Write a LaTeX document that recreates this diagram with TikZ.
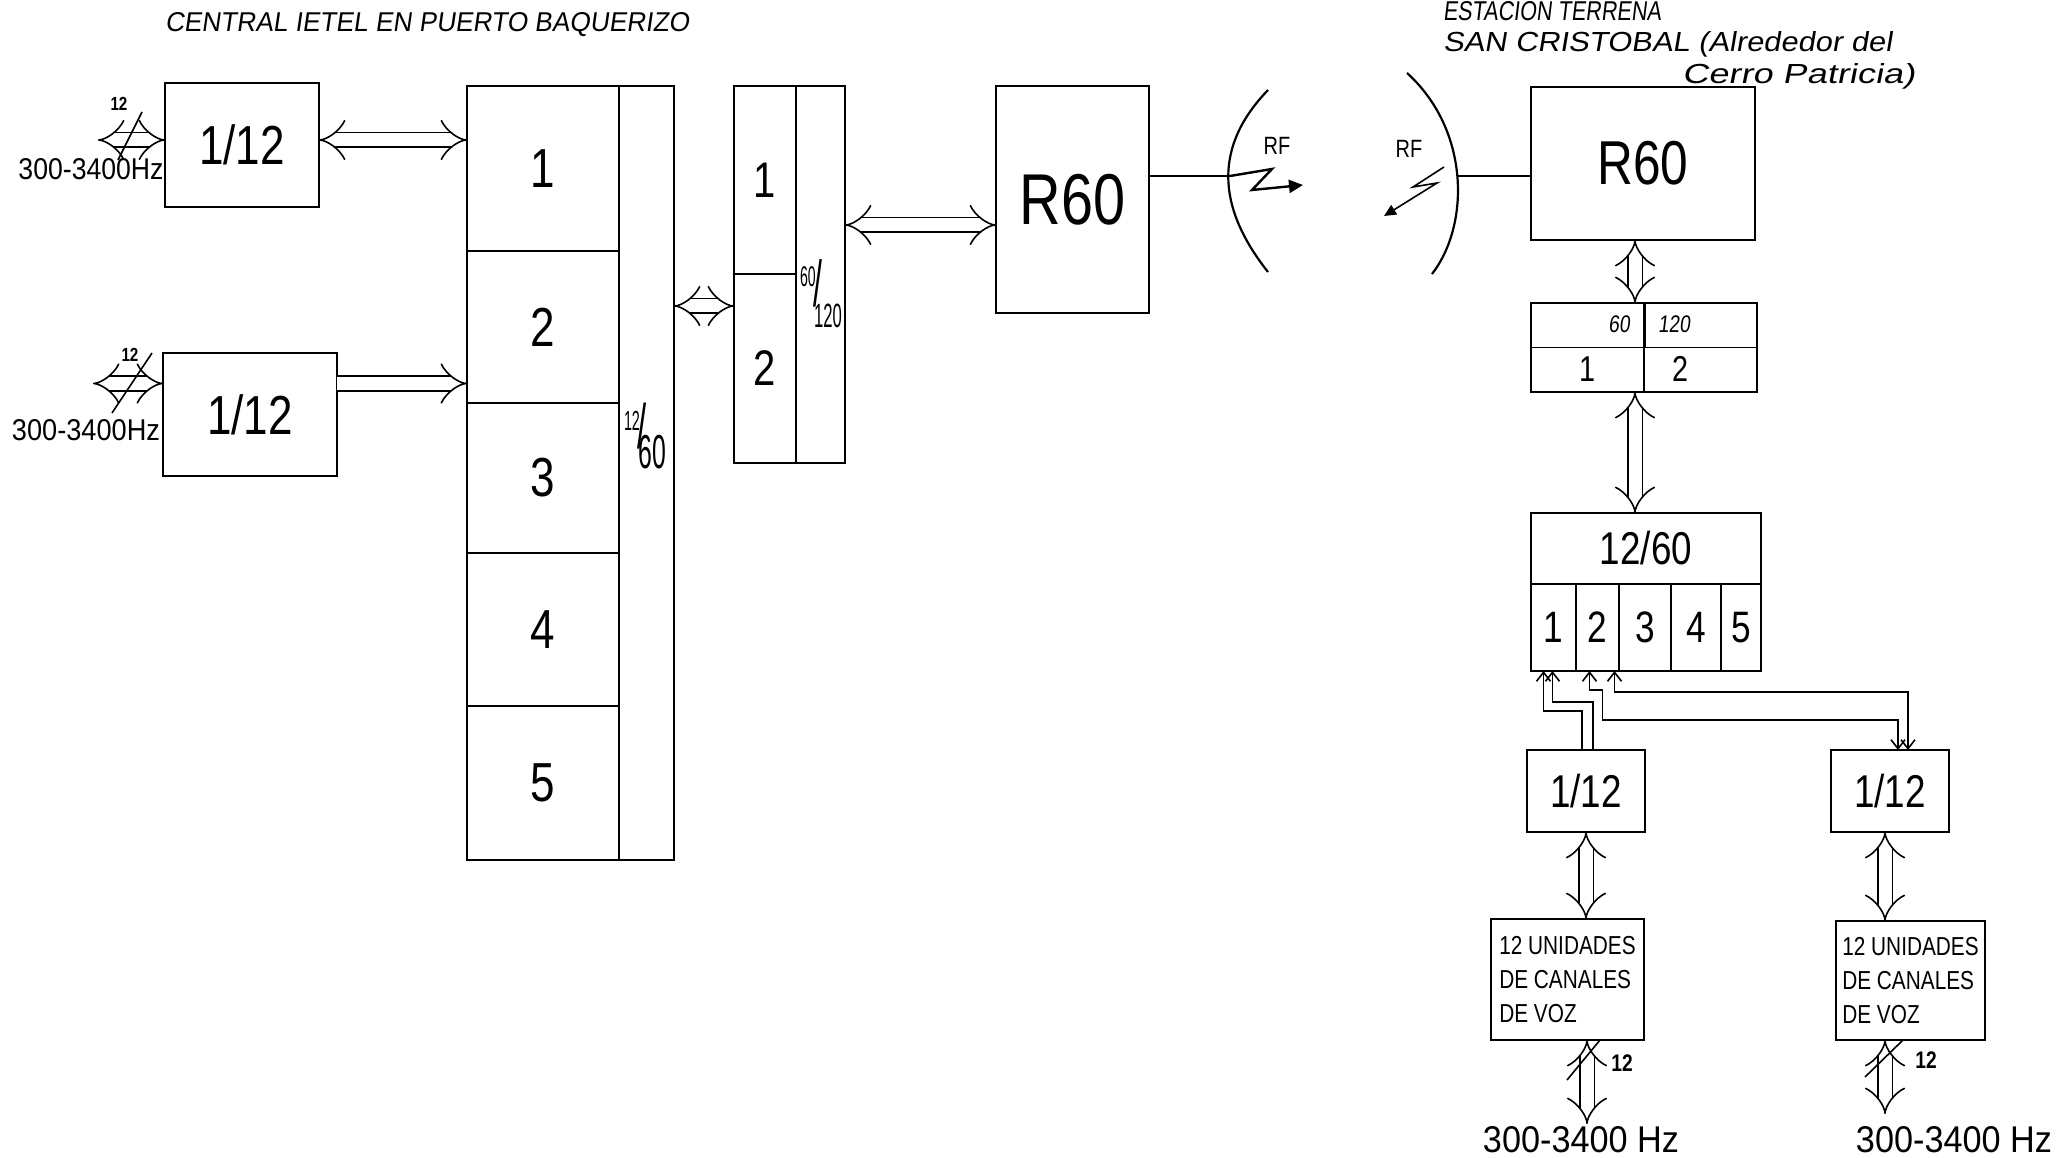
\documentclass[tikz,border=0pt]{standalone}
\usepackage{graphicx}
\usepackage{fontspec}
\setmainfont{Liberation Sans}
\newfontfamily\hf[FakeStretch=0.8]{Liberation Sans}
\newfontfamily\hfi[FakeStretch=0.8,FakeSlant=0.12]{Liberation Sans}
\usetikzlibrary{arrows.meta}
\begin{document}
\begin{tikzpicture}[x=1pt,y=-1pt,
  fs/.style={font={\hf\fontsize{#1}{#1}\selectfont}},
  fsi/.style={font={\hfi\fontsize{#1}{#1}\selectfont}},
  box/.style={draw, line width=1.8pt, inner sep=0pt, outer sep=0pt},
  lbl/.style={inner sep=0pt, outer sep=0pt},
  dbl/.style={line width=1.6pt, double distance=13pt},
  bi/.style={dbl, {Implies}-{Implies}},
  uni/.style={dbl, -{Implies}},
  thin/.style={line width=1.6pt},
  barb/.style={line width=1.6pt, >={Straight Barb[length=9pt,width=14pt]}}
]
\useasboundingbox (0,0) rectangle (2064,1158);

% titles
\node[fsi=24, anchor=west, lbl] (t1) at (165,25) {\resizebox{524pt}{19pt}{CENTRAL IETEL EN PUERTO BAQUERIZO}};
\node[fsi=24, anchor=west, lbl] (t2) at (1443,11) {\resizebox{218pt}{19pt}{ESTACION TERRENA}};
\node[fsi=24, anchor=west, lbl] (t3) at (1443,44) {\resizebox{449pt}{20pt}{SAN CRISTOBAL (Alrededor del}};
\node[fsi=24, anchor=west, lbl] (t4) at (1682,76) {\resizebox{233pt}{20pt}{Cerro Patricia)}};

% left side: 1/12 boxes
\node[box, fs=55, minimum width=154pt, minimum height=124pt] (tb1) at (242,145) {1/12};
\node[box, fs=55, minimum width=174pt, minimum height=123pt] (lb1) at (250,414.5) {1/12};

% big 12/60 block
\node[box, fs=55, minimum width=152pt, minimum height=165pt] (c1) at (543,168.5) {1};
\node[box, fs=55, minimum width=152pt, minimum height=152pt] (c2) at (543,327) {2};
\node[box, fs=55, minimum width=152pt, minimum height=150pt] (c3) at (543,478) {3};
\node[box, fs=55, minimum width=152pt, minimum height=153pt] (c4) at (543,629.5) {4};
\node[box, fs=55, minimum width=152pt, minimum height=154pt] (c5) at (543,783) {5};
\node[box, minimum width=55pt, minimum height=774pt] (col12) at (646.5,473) {};
\node[lbl, font=\hf] (f1260) at (645,436) {\resizebox*{42pt}{66pt}{\raisebox{14pt}{\fontsize{22}{22}\selectfont 12}\hspace{-3pt}{\fontsize{50}{50}\selectfont/}\hspace{-10pt}\raisebox{-16pt}{\fontsize{38}{38}\selectfont 60}}};

% 60/120 block
\node[box, fs=50, minimum width=62pt, minimum height=188pt] (m1) at (765,180) {1};
\node[box, fs=50, minimum width=62pt, minimum height=189pt] (m2) at (765,368.5) {2};
\node[box, minimum width=49pt, minimum height=377pt] (mcol) at (820.5,274.5) {};
\node[lbl, font=\hf] (f60120) at (821,294) {\resizebox*{42pt}{68pt}{\raisebox{16pt}{\fontsize{22}{22}\selectfont 60}\hspace{-3pt}{\fontsize{50}{50}\selectfont/}\hspace{-10pt}\raisebox{-16pt}{\fontsize{26}{26}\selectfont 120}}};

% R60 left
\node[box, fs=72, minimum width=153pt, minimum height=227pt] (r60a) at (1072.5,199.5) {R60};

% connectors left side
\draw[bi] ([xshift=-67pt,yshift=5pt]tb1.west) -- ([yshift=5pt]tb1.west);
\draw[thin] (142,112) -- (118,160);
\node[lbl, font={\hf\bfseries\fontsize{19}{19}\selectfont}] (n12a) at (119,104) {12};
\node[lbl, font=\hf] (hz1) at (91,169) {\resizebox{145pt}{21pt}{300-3400Hz}};

\draw[bi] ([xshift=-70pt,yshift=31pt]lb1.west) -- ([yshift=31pt]lb1.west);
\draw[thin] (152,353) -- (112,413);
\node[lbl, font={\hf\bfseries\fontsize{19}{19}\selectfont}] (n12b) at (130,355) {12};
\node[lbl, font=\hf] (hz2) at (86,430) {\resizebox{148pt}{21pt}{300-3400Hz}};

\draw[bi] ([yshift=5pt]tb1.east) -- ([yshift=5pt]tb1.east -| c1.west);
\draw[uni] ([yshift=31pt]lb1.east) -- ([yshift=31pt]lb1.east -| c2.west);
\draw[bi] ([yshift=167pt]col12.east) -- ([yshift=167pt]col12.east -| m2.west);
\draw[bi] ([yshift=49.5pt]mcol.east) -- ([yshift=49.5pt]mcol.east -| r60a.west);

% antennas
\coordinate (antL) at (1230,176);
\coordinate (antR) at (1457,176);
\draw[thin] (r60a.east |- antL) -- (antL);
\draw[line width=2.2pt] (1268,90) .. controls (1215,145) and (1215,205) .. (1268,272);
\draw[line width=2.2pt] (1407,73) .. controls (1470,130) and (1470,225) .. (1432,274);
\draw[line width=2.4pt, -{Triangle[length=14pt,width=13pt]}] (antL) -- (1272,169) -- (1252,190) -- (1303,185);
\draw[line width=1.6pt, -{Triangle[length=12pt,width=11pt]}] (1444,167) -- (1413,187) -- (1437,183) -- (1384,216);
\node[lbl, fs=25] (rf1) at (1277,146) {RF};
\node[lbl, fs=25] (rf2) at (1409,149) {RF};

% right side
\node[box, fs=62, minimum width=224pt, minimum height=153pt] (r60b) at (1643,163.5) {R60};
\draw[thin] (antR) -- (antR -| r60b.west);

\node[box, minimum width=226pt, minimum height=89pt] (m60) at (1644,347.5) {};
\draw[line width=1.8pt] (m60.west) -- (m60.east);
\draw[line width=1.8pt] (m60.north) -- (m60.south);
\draw[line width=3pt] (m60.north) -- (m60.center);
\node[lbl, fsi=24] (l60) at (1619,324) {60};
\node[lbl, fsi=24] (l120) at (1674,324) {120};
\node[lbl, fs=36] (l1) at (1587,369) {1};
\node[lbl, fs=36] (l2) at (1680,369) {2};

\node[box, fs=46, minimum width=230pt, minimum height=71pt] (m12) at (1646,548.5) {12/60};
\node[box, fs=44, minimum width=45pt, minimum height=87pt] (ch1) at (1553.5,627.5) {1};
\node[box, fs=44, minimum width=43pt, minimum height=87pt] (ch2) at (1597.5,627.5) {2};
\node[box, fs=44, minimum width=52pt, minimum height=87pt] (ch3) at (1645,627.5) {3};
\node[box, fs=44, minimum width=50pt, minimum height=87pt] (ch4) at (1696,627.5) {4};
\node[box, fs=44, minimum width=40pt, minimum height=87pt] (ch5) at (1741,627.5) {5};

\draw[bi] ([xshift=-8pt]r60b.south) -- ([xshift=-9pt]m60.north);
\draw[bi] ([xshift=-9pt]m60.south) -- ([xshift=-9pt]m60.south |- m12.north);

\node[box, fs=46, minimum width=118pt, minimum height=82pt] (lb) at (1586,791) {1/12};
\node[box, fs=46, minimum width=118pt, minimum height=82pt] (rb) at (1890,791) {1/12};

\draw[barb, <-] ([xshift=-10pt]ch1.south) -- ++(0,40) -| ([xshift=-4pt]lb.north);
\draw[barb, <-] ([xshift=-1pt]ch1.south) -- ++(0,31) -| ([xshift=7pt]lb.north);
\draw[barb, <->] ([xshift=-8pt]ch2.south) -- ++(0,19) -- ++(13,0) -- ++(0,30) -| ([xshift=8pt]rb.north);
\draw[barb, <->] ([xshift=17pt]ch2.south) -- ++(0,21) -| ([xshift=18pt]rb.north);

\node[box, font={\hf\fontsize{26}{34}\selectfont}, align=left, minimum width=153pt, minimum height=121pt] (ul) at (1567.5,979.5) {12 UNIDADES\\DE CANALES\\DE VOZ};
\node[box, font={\hf\fontsize{26}{34}\selectfont}, align=left, minimum width=149pt, minimum height=119pt] (ur) at (1910.5,980.5) {12 UNIDADES\\DE CANALES\\DE VOZ};

\draw[bi] (lb.south) -- (lb.south |- ul.north);
\draw[bi] ([xshift=-5pt]rb.south) -- ([xshift=-5pt]rb.south |- ur.north);

\coordinate (outL) at (1587,1124);
\coordinate (outR) at (1885,1114);
\draw[bi] (outL |- ul.south) -- (outL);
\draw[bi] (outR |- ur.south) -- (outR);
\draw[thin] (1567,1080) -- (1600,1040);
\draw[thin] (1865,1077) -- (1903,1040);
\node[lbl, font={\hf\bfseries\fontsize{24}{24}\selectfont}] (n12c) at (1622,1063) {12};
\node[lbl, font={\hf\bfseries\fontsize{24}{24}\selectfont}] (n12d) at (1926,1060) {12};
\node[lbl, font=\hf] (hz3) at (1581,1140) {\resizebox{196pt}{26pt}{300-3400 Hz}};
\node[lbl, font=\hf] (hz4) at (1954,1140) {\resizebox{196pt}{26pt}{300-3400 Hz}};
\end{tikzpicture}
\end{document}
